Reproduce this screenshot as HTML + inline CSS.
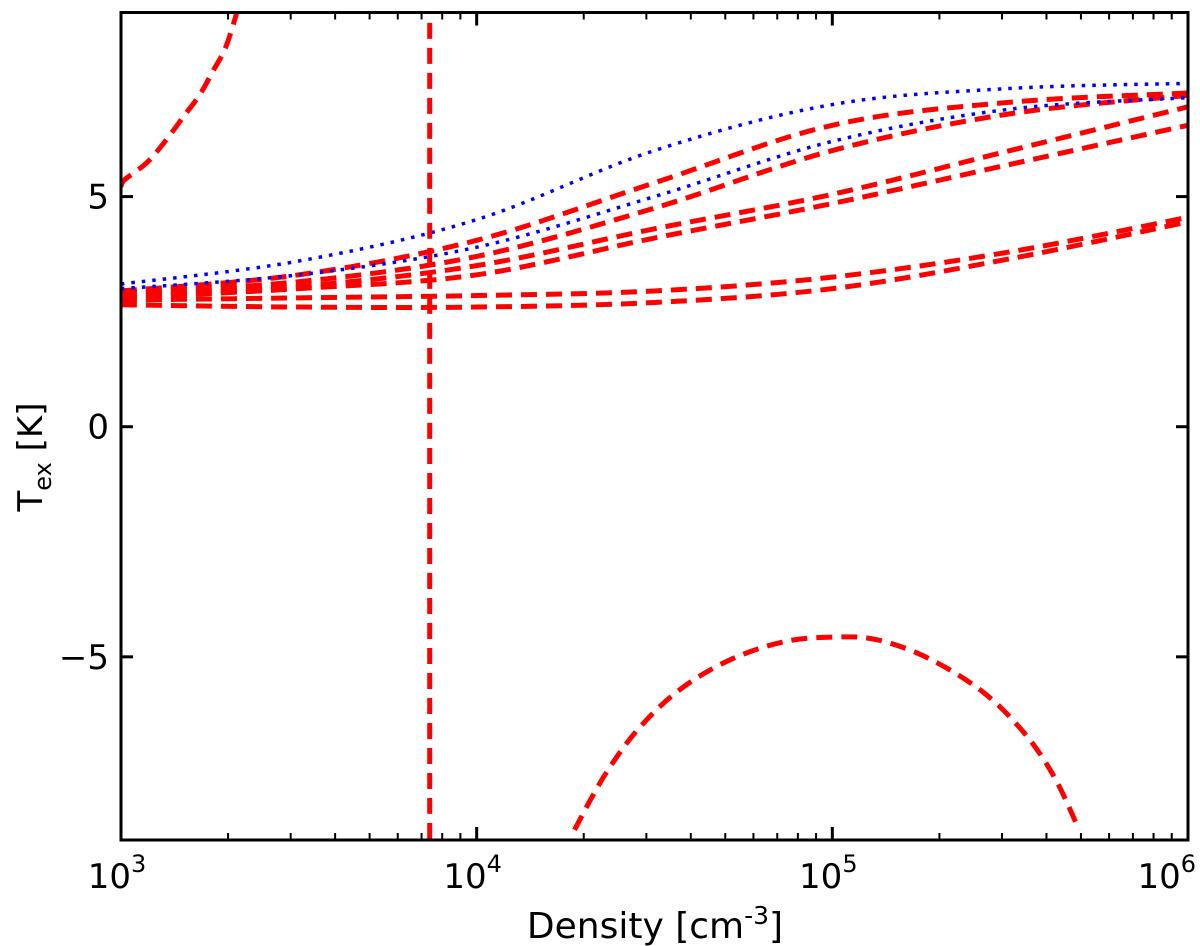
<!DOCTYPE html>
<html><head><meta charset="utf-8"><style>
body{margin:0;background:#fff;}
svg{display:block;font-family:"DejaVu Sans","Liberation Sans",sans-serif;}
</style></head><body>
<svg id="chart" width="1200" height="946" viewBox="0 0 1200 946" xmlns="http://www.w3.org/2000/svg">
<defs><clipPath id="clip"><rect x="121" y="12.5" width="1067" height="827.5"/></clipPath></defs>
<g id="series" clip-path="url(#clip)"></g>
<g id="axes"></g>
<text transform="translate(42,457) rotate(-90)" text-anchor="middle" font-size="34">T<tspan font-size="24" dy="9">ex</tspan><tspan dy="-9"> [K]</tspan></text>
<text x="655" y="938" text-anchor="middle" font-size="36">Density [cm<tspan font-size="25" dy="-14">-3</tspan><tspan dy="14">]</tspan></text>
</svg>
<script>
const logX = [3, 3.5, 4, 4.5, 5, 5.5, 6];
const blue1 = [3.1, 3.6, 4.5, 6.0, 7.0, 7.35, 7.46];
const blue2 = [3.0, 3.3, 3.9, 5.0, 6.2, 6.9, 7.15];
const red1 = [2.95, 3.3, 4.05, 5.3, 6.55, 7.05, 7.25];
const red2 = [2.9, 3.15, 3.7, 4.75, 6.0, 6.8, 7.2];
const red3 = [2.85, 3.05, 3.5, 4.3, 5.05, 6.0, 6.95];
const red4 = [2.8, 3.0, 3.3, 4.1, 4.85, 5.7, 6.55];
const red5 = [2.75, 2.8, 2.85, 2.95, 3.25, 3.8, 4.55];
const red6 = [2.65, 2.6, 2.6, 2.7, 3.0, 3.65, 4.45];
const upperBranchX = [3.0, 3.011, 3.073, 3.124, 3.174, 3.222, 3.258, 3.292, 3.32, 3.335];
const upperBranchY = [5.22, 5.37, 5.74, 6.2, 6.72, 7.22, 7.72, 8.2, 8.85, 9.3];
const verticalX = [3.868, 3.868];
const verticalY = [-9.5, 8.8];
const lowerBranchX = [4.275, 4.357, 4.452, 4.57, 4.711, 4.865, 5.008, 5.126, 5.267, 5.421, 5.539, 5.624, 5.694];
const lowerBranchY = [-8.76, -7.61, -6.59, -5.72, -5.07, -4.67, -4.57, -4.63, -5.02, -5.75, -6.65, -7.61, -8.76];
const yTicks = [5, 0, -5];
const xDecades = [3, 4, 5, 6];

const X0 = 121, X1 = 1188, Y0 = 12.5, Y1 = 840;
const xmin = 3, xmax = 6, ymin = -8.98, ymax = 9.0;
function sx(l){ return X0 + (l - xmin) / (xmax - xmin) * (X1 - X0); }
function sy(v){ return Y1 - (v - ymin) / (ymax - ymin) * (Y1 - Y0); }
const NS = 'http://www.w3.org/2000/svg';
const gS = document.getElementById('series');
const gA = document.getElementById('axes');

function smoothPath(xs, ys){
  const pts = xs.map((x,i)=>[sx(x), sy(ys[i])]);
  let d = 'M' + pts[0][0] + ',' + pts[0][1];
  for(let i=0;i<pts.length-1;i++){
    const p0 = pts[Math.max(0,i-1)], p1 = pts[i], p2 = pts[i+1], p3 = pts[Math.min(pts.length-1,i+2)];
    const c1 = [p1[0]+(p2[0]-p0[0])/6, p1[1]+(p2[1]-p0[1])/6];
    const c2 = [p2[0]-(p3[0]-p1[0])/6, p2[1]-(p3[1]-p1[1])/6];
    d += ' C'+c1[0]+','+c1[1]+' '+c2[0]+','+c2[1]+' '+p2[0]+','+p2[1];
  }
  return d;
}
function addLine(xs, ys, color, dash, w, name){
  const p = document.createElementNS(NS,'path');
  p.setAttribute('d', smoothPath(xs, ys));
  p.setAttribute('fill','none');
  p.setAttribute('stroke',color);
  p.setAttribute('stroke-width',w);
  p.setAttribute('stroke-dasharray',dash);
  
  
  gS.appendChild(p);
}
const redDash = '16,9', blueDot = '3.5,7';
addLine(logX, red1, '#ff0000', redDash, 5, 'red-curve-1');
addLine(logX, red2, '#ff0000', redDash, 5, 'red-curve-2');
addLine(logX, red3, '#ff0000', redDash, 5, 'red-curve-3');
addLine(logX, red4, '#ff0000', redDash, 5, 'red-curve-4');
addLine(logX, red5, '#ff0000', redDash, 5, 'red-curve-5');
addLine(logX, red6, '#ff0000', redDash, 5, 'red-curve-6');
addLine(logX, blue1, '#0000ff', blueDot, 3.5, 'blue-curve-1');
addLine(logX, blue2, '#0000ff', blueDot, 3.5, 'blue-curve-2');
addLine(upperBranchX, upperBranchY, '#ff0000', redDash, 5, 'upper-branch-curve');
addLine(verticalX, verticalY, '#ff0000', redDash, 5, 'critical-density-line');
addLine(lowerBranchX, lowerBranchY, '#ff0000', redDash, 5, 'lower-branch-curve');

function line(x1,y1,x2,y2,w,name){
  const l = document.createElementNS(NS,'line');
  l.setAttribute('x1',x1); l.setAttribute('y1',y1); l.setAttribute('x2',x2); l.setAttribute('y2',y2);
  l.setAttribute('stroke','#000'); l.setAttribute('stroke-width',w);
  
  
  gA.appendChild(l);
}
const fr = document.createElementNS(NS,'rect');
fr.setAttribute('x',X0); fr.setAttribute('y',Y0); fr.setAttribute('width',X1-X0); fr.setAttribute('height',Y1-Y0);
fr.setAttribute('fill','none'); fr.setAttribute('stroke','#000'); fr.setAttribute('stroke-width',3);


gA.appendChild(fr);
yTicks.forEach(v=>{
  const y = sy(v);
  line(X0,y,X0+12,y,3,'y-tick');
  line(X1,y,X1-12,y,3,'y-tick-right');
  const t = document.createElementNS(NS,'text');
  t.setAttribute('x', X0-12); t.setAttribute('y', y+12);
  t.setAttribute('text-anchor','end'); t.setAttribute('font-size','34');
  t.textContent = v < 0 ? '\u2212' + Math.abs(v) : String(v);
  
  
  gA.appendChild(t);
});
xDecades.forEach((d,i)=>{
  const x = sx(d);
  line(x,Y1,x,Y1-13,3,'x-major-tick');
  line(x,Y0,x,Y0+13,3,'x-major-tick-top');
  if(i < xDecades.length-1){
    for(let m=2;m<=9;m++){
      const xm = sx(d + Math.log10(m));
      line(xm,Y1,xm,Y1-7,2,'x-minor-tick');
      line(xm,Y0,xm,Y0+7,2,'x-minor-tick-top');
    }
  }
  const t = document.createElementNS(NS,'text');
  const last = i === xDecades.length-1;
  t.setAttribute('x', last ? 1196 : x-4); t.setAttribute('y', 888);
  t.setAttribute('text-anchor', last ? 'end' : 'middle'); t.setAttribute('font-size','34');
  t.innerHTML = '10<tspan font-size="24" dy="-16">' + d + '</tspan>';
  
  
  gA.appendChild(t);
});
</script>
</body></html>
